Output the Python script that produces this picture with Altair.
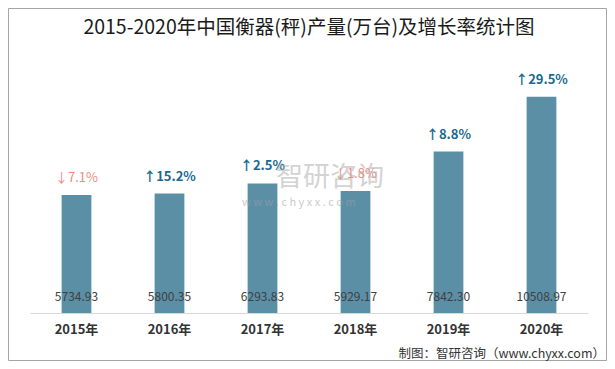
import altair as alt
import pandas as pd

years = ["2015年", "2016年", "2017年", "2018年", "2019年", "2020年"]
output = [5734.93, 5800.35, 6293.83, 5929.17, 7842.30, 10508.97]
growth = ["↓7.1%", "↑15.2%", "↑2.5%", "↓1.8%", "↑8.8%", "↑29.5%"]
direction = ["down", "up", "up", "down", "up", "up"]

df = pd.DataFrame({
    "year": years,
    "output": output,
    "label": [f"{v:.2f}" for v in output],
    "growth": growth,
    "dir": direction,
})

W, H = 558, 247
FONT = "Noto Sans CJK SC"

xenc = alt.X("year:N", sort=years, title=None,
             scale=alt.Scale(paddingInner=0.68, paddingOuter=0.34),
             axis=alt.Axis(labelAngle=0, labelFont=FONT, labelFontSize=13,
                           labelFontWeight="bold", labelColor="#333333",
                           labelPadding=10, ticks=False, domainColor="#D9D9D9",
                           domainWidth=1.2))
yscale = alt.Scale(domain=[0, 12000])

base = alt.Chart(df)

bars = base.mark_bar(color="#5B8FA6").encode(
    x=xenc,
    y=alt.Y("output:Q", scale=yscale, axis=None),
)

values = base.mark_text(font=FONT, fontSize=12, color="#404040").encode(
    x=alt.X("year:N", sort=years),
    y=alt.value(H - 16),
    text="label:N",
)

growth_up = base.transform_filter(alt.datum.dir == "up").mark_text(
    font=FONT, fontSize=13, dy=-17, color="#1B6A8F", fontWeight="bold"
).encode(
    x=alt.X("year:N", sort=years),
    y=alt.Y("output:Q", scale=yscale),
    text="growth:N",
)

growth_down = base.transform_filter(alt.datum.dir == "down").mark_text(
    font=FONT, fontSize=13, dy=-17, color="#EE8C7E"
).encode(
    x=alt.X("year:N", sort=years),
    y=alt.Y("output:Q", scale=yscale),
    text="growth:N",
)

title = alt.Chart(pd.DataFrame({"t": ["2015-2020年中国衡器(秤)产量(万台)及增长率统计图"]})).mark_text(
    font=FONT, fontSize=19.5, color="#1a1a1a", fontWeight="normal"
).encode(x=alt.value(W / 2), y=alt.value(-38), text="t:N")

source = alt.Chart(pd.DataFrame({"t": ["制图：智研咨询（www.chyxx.com）"]})).mark_text(
    font=FONT, fontSize=12.5, color="#333333", align="right"
).encode(x=alt.value(575), y=alt.value(288), text="t:N")

wm1 = alt.Chart(pd.DataFrame({"t": ["智研咨询"]})).mark_text(
    font=FONT, fontSize=27, color="#B0B0B0", opacity=0.55, align="left"
).encode(x=alt.value(246), y=alt.value(112), text="t:N")

wm2 = alt.Chart(pd.DataFrame({"t": ["w w w . c h y x x . c o m"]})).mark_text(
    font=FONT, fontSize=11, color="#A0A0A0", opacity=0.55, align="left"
).encode(x=alt.value(212), y=alt.value(137), text="t:N")

border = alt.Chart(pd.DataFrame({"a": [0]})).mark_rect(
    fill=None, stroke="#A6A6A6", strokeWidth=1
).encode(x=alt.value(-21.5), x2=alt.value(576.5), y=alt.value(-57.5), y2=alt.value(294.5))

chart = alt.layer(border, bars, values, growth_up, growth_down, wm1, wm2, title, source).properties(
    width=W, height=H,
    autosize=alt.AutoSizeParams(type="none"),
    padding={"left": 22, "top": 58, "right": 19, "bottom": 48},
    background="white",
).configure_view(stroke=None)

chart.save("out.html", embed_options={"renderer": "svg", "actions": False})
